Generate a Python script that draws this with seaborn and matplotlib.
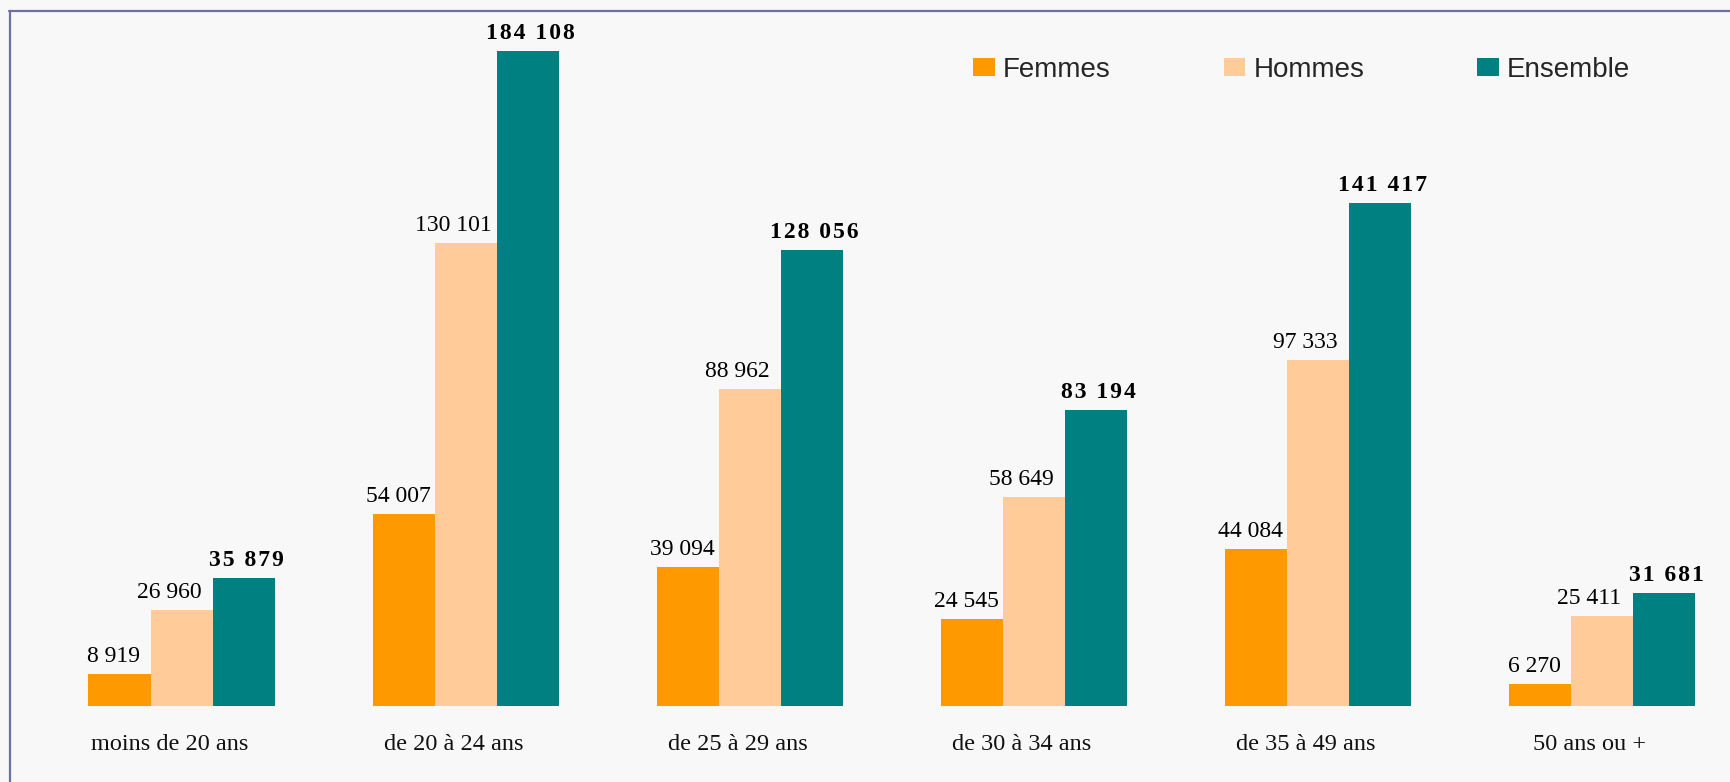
"""
Effectifs par tranche d'age : Femmes, Hommes et Ensemble (barres groupees).
"""

import numpy as np
import pandas as pd
import seaborn as sns
import matplotlib.pyplot as plt
from matplotlib.lines import Line2D
from matplotlib.transforms import ScaledTranslation

# Donnees
TRANCHES = ["moins de 20 ans", "de 20 à 24 ans", "de 25 à 29 ans",
            "de 30 à 34 ans", "de 35 à 49 ans", "50 ans ou +"]
GROUPES = ["Femmes", "Hommes", "Ensemble"]
FEMMES = [8919, 54007, 39094, 24545, 44084, 6270]
HOMMES = [26960, 130101, 88962, 58649, 97333, 25411]
ENSEMBLE = [35879, 184108, 128056, 83194, 141417, 31681]

COULEURS = ["#FF9900", "#FFCC99", "#008080"]
FOND = "#F8F8F8"
SAVE_AS = "out.png"

sns.set_theme(style="white")
plt.rcParams["font.family"] = ["Liberation Serif", "DejaVu Serif"]


def fmt(v, espace=False):
    s = f"{v:,}".replace(",", " ")
    if espace:
        # lettres espacees comme dans l'original (chiffres en gras)
        s = "\u200a".join(s)
    return s


def plot(save_as):
    df = pd.DataFrame({
        "tranche": TRANCHES * 3,
        "groupe": np.repeat(GROUPES, len(TRANCHES)),
        "effectif": FEMMES + HOMMES + ENSEMBLE,
    })

    fig = plt.figure(figsize=(17.3, 7.82), dpi=100, facecolor=FOND)
    ax = fig.add_axes([0, 76 / 782, 1, 694 / 782])
    ax.set_facecolor(FOND)

    sns.barplot(data=df, x="tranche", y="effectif", hue="groupe",
                order=TRANCHES, hue_order=GROUPES, palette=COULEURS,
                saturation=1, width=0.655, linewidth=0, ax=ax)

    ax.set_xlim(-0.639, 5.451)
    ax.set_ylim(0, 195000)
    ax.set_xlabel("")
    ax.set_ylabel("")
    ax.set_yticks([])
    sns.despine(ax=ax, left=True, bottom=True)
    ax.tick_params(axis="x", length=0, pad=20, labelsize=17.5, labelcolor="#111111")
    shift = ScaledTranslation(-12 / 100, 0, fig.dpi_scale_trans)
    for lab in ax.get_xticklabels():
        lab.set_transform(lab.get_transform() + shift)

    # Etiquettes de valeurs
    series = [FEMMES, HOMMES, ENSEMBLE]
    decal = [-4, -9, 2]
    for i, cont in enumerate(ax.containers):
        gras = i == 2
        anns = ax.bar_label(cont, labels=[fmt(v, gras) for v in series[i]],
                            padding=5, fontsize=17,
                            fontweight="bold" if gras else "normal",
                            color="black")
        for a in anns:
            a.xyann = (decal[i], 5)

    ax.legend(ncol=3, frameon=False, loc="center left",
              bbox_to_anchor=(973 / 1730, 1 - 70 / 782),
              bbox_transform=fig.transFigure,
              prop={"family": ["Liberation Sans", "DejaVu Sans"], "size": 20},
              handlelength=0.79, handleheight=0.61, handletextpad=0.29,
              columnspacing=4.06, borderpad=0, borderaxespad=0)

    # Cadre
    bord = "#6F6FA8"
    fig.add_artist(Line2D([9.5 / 1730, 9.5 / 1730], [0, 1 - 11 / 782],
                          transform=fig.transFigure, color=bord, lw=1.6))
    fig.add_artist(Line2D([9 / 1730, 1], [1 - 11 / 782, 1 - 11 / 782],
                          transform=fig.transFigure, color=bord, lw=1.6))

    fig.savefig(save_as, dpi=100, facecolor=FOND)


def main():
    plot(SAVE_AS)


if __name__ == "__main__":
    main()
